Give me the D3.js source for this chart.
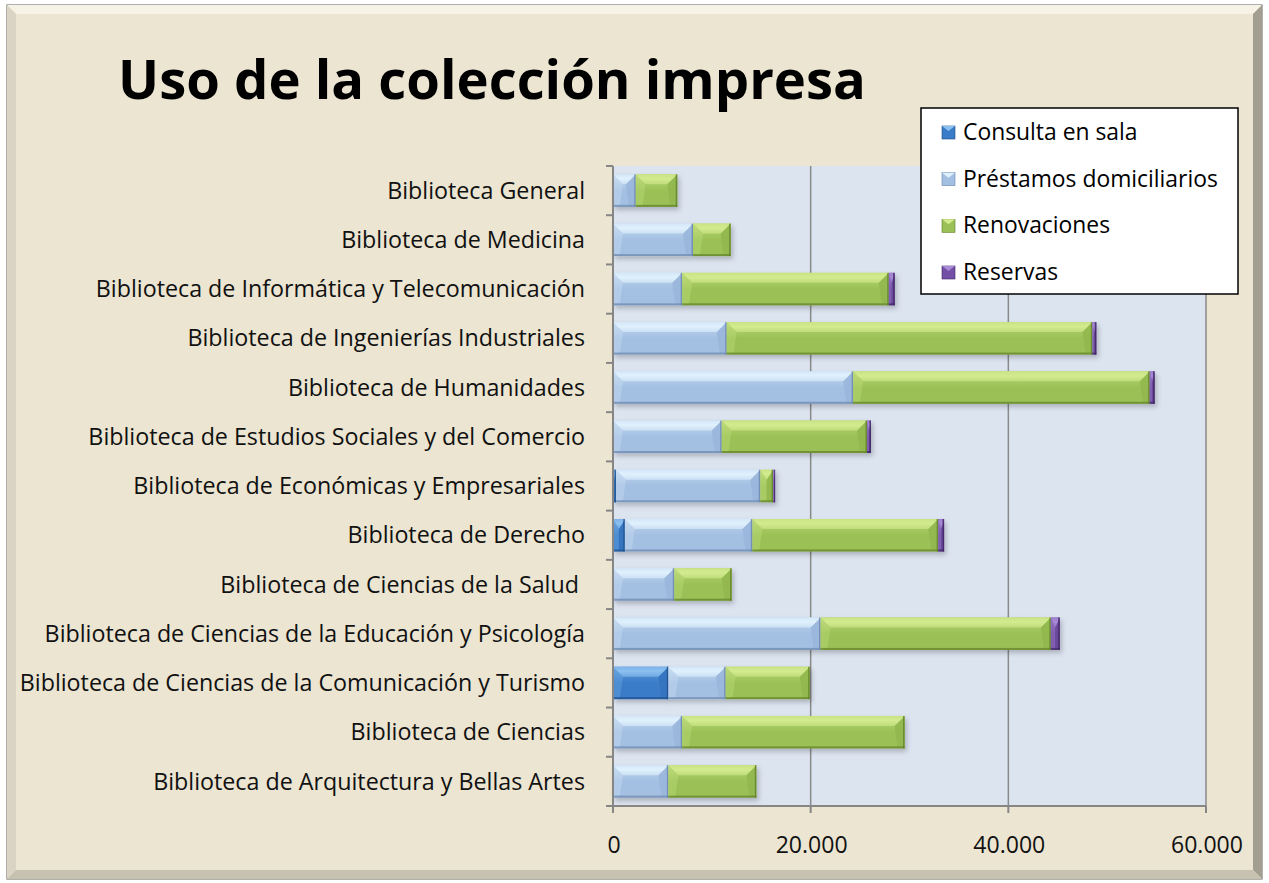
<!DOCTYPE html>
<html><head><meta charset="utf-8">
<script src="https://cdn.jsdelivr.net/npm/d3@7"></script>
<style>html,body{margin:0;padding:0;background:#fff;}svg{display:block;}</style>
</head><body>
<svg id="chart" width="1269" height="883"></svg>
<script>
// ---------- DATA ----------
const title = "Uso de la colección impresa";
const categories = [
  "Biblioteca General",
  "Biblioteca de Medicina",
  "Biblioteca de Informática y Telecomunicación",
  "Biblioteca de Ingenierías Industriales",
  "Biblioteca de Humanidades",
  "Biblioteca de Estudios Sociales y del Comercio",
  "Biblioteca de Económicas y Empresariales",
  "Biblioteca de Derecho",
  "Biblioteca de Ciencias de la Salud ",
  "Biblioteca de Ciencias de la Educación y Psicología",
  "Biblioteca de Ciencias de la Comunicación y Turismo",
  "Biblioteca de Ciencias",
  "Biblioteca de Arquitectura y Bellas Artes"
];
const seriesNames = ["Consulta en sala", "Préstamos domiciliarios", "Renovaciones", "Reservas"];
const consulta     = [0, 0, 0, 0, 0, 0, 300, 1200, 0, 0, 5600, 0, 0];
const prestamos    = [2300, 8100, 7000, 11500, 24300, 11000, 14600, 12900, 6200, 21000, 5800, 7000, 5600];
const renovaciones = [4200, 3800, 20900, 37000, 30000, 14700, 1300, 18800, 5800, 23300, 8500, 22500, 8900];
const reservas     = [0, 0, 600, 400, 500, 400, 200, 600, 0, 900, 0, 0, 0];
const xTicks = [0, 20000, 40000, 60000];

// ---------- STYLE ----------
const seriesColors = [
  {base:"#3A7CC8", light:"#8CC0F0", side:"#3473BF", dark:"#1D4E88"},
  {base:"#A3BFE2", light:"#E0F1FD", side:"#9AB6DA", dark:"#6A86AD"},
  {base:"#9BC156", light:"#D3EB8F", side:"#92B74F", dark:"#5F7F28"},
  {base:"#7350A5", light:"#A88AD6", side:"#6A479A", dark:"#3E2663"}
];
const FONT = "'Open Sans', 'Noto Sans', sans-serif";

const svg = d3.select("#chart");
const defs = svg.append("defs");

// frame
const fx0 = 7, fy0 = 5, fx1 = 1262, fy1 = 879, bv = 9;
svg.append("rect").attr("x", fx0).attr("y", fy0).attr("width", fx1 - fx0).attr("height", fy1 - fy0)
  .attr("fill", "#ECE6D2").attr("stroke", "#7d7b74").attr("stroke-width", 1.2);
const bevels = [
  {pts:[[fx0,fy0],[fx1,fy0],[fx1-bv,fy0+bv],[fx0+bv,fy0+bv]], fill:"#F6F2E6"},
  {pts:[[fx0,fy0],[fx0+bv,fy0+bv],[fx0+bv,fy1-bv],[fx0,fy1]], fill:"#D9D4C3"},
  {pts:[[fx1,fy0],[fx1,fy1],[fx1-bv,fy1-bv],[fx1-bv,fy0+bv]], fill:"#A29E90"},
  {pts:[[fx0,fy1],[fx1,fy1],[fx1-bv,fy1-bv],[fx0+bv,fy1-bv]], fill:"#C7C2B0"}
];
svg.selectAll("polygon.bevel").data(bevels).enter().append("polygon")
  .attr("class", "bevel").attr("points", d => d.pts.map(p => p.join(",")).join(" "))
  .attr("fill", d => d.fill);
svg.append("rect").attr("x", fx0 + bv).attr("y", fy0 + bv)
  .attr("width", fx1 - fx0 - 2 * bv).attr("height", fy1 - fy0 - 2 * bv).attr("fill", "#EBE5D1");

// plot area
const px0 = 613, px1 = 1206, py0 = 166, py1 = 806;
const x = d3.scaleLinear().domain([0, 60000]).range([px0, px1]);
const y = d3.scaleBand().domain(categories).range([py0, py1]).paddingInner(0.34).paddingOuter(0.17);
const yOuter = d3.scaleBand().domain(categories).range([py0, py1]);

svg.append("rect").attr("x", px0).attr("y", py0).attr("width", px1 - px0).attr("height", py1 - py0)
  .attr("fill", "#DCE4F0");

svg.append("g").selectAll("line").data(xTicks.slice(1)).enter().append("line")
  .attr("x1", d => x(d)).attr("x2", d => x(d)).attr("y1", py0).attr("y2", py1)
  .attr("stroke", "#8a8a8a").attr("stroke-width", 1.5);

// gradients
seriesColors.forEach((c, i) => {
  const f = defs.append("linearGradient").attr("id", "face" + i)
    .attr("x1", 0).attr("y1", 0).attr("x2", 0).attr("y2", 1);
  f.append("stop").attr("offset", "0%").attr("stop-color", d3.interpolateRgb(c.light, c.base)(0.5));
  f.append("stop").attr("offset", "50%").attr("stop-color", c.base);
  f.append("stop").attr("offset", "100%").attr("stop-color", c.base);
  const t = defs.append("linearGradient").attr("id", "top" + i)
    .attr("x1", 0).attr("y1", 0).attr("x2", 0).attr("y2", 1);
  t.append("stop").attr("offset", "0%").attr("stop-color", d3.interpolateRgb(c.light, c.base)(0.2));
  t.append("stop").attr("offset", "45%").attr("stop-color", c.light);
  t.append("stop").attr("offset", "100%").attr("stop-color", d3.interpolateRgb(c.light, c.base)(0.35));
});
const flt = defs.append("filter").attr("id", "shadow").attr("x", "-5%").attr("y", "-20%").attr("width", "115%").attr("height", "160%");
flt.append("feDropShadow").attr("dx", 2).attr("dy", 3).attr("stdDeviation", 2.5)
  .attr("flood-color", "#000").attr("flood-opacity", 0.22);

const rows = categories.map((c, i) => ({cat: c, s0: consulta[i], s1: prestamos[i], s2: renovaciones[i], s3: reservas[i]}));
const stack = d3.stack().keys(["s0", "s1", "s2", "s3"])(rows);

const pts = a => a.map(p => p.join(",")).join(" ");
const barsG = svg.append("g").attr("filter", "url(#shadow)");
stack.forEach((layer, si) => {
  const c = seriesColors[si];
  const segs = layer.filter(d => d[1] - d[0] > 0).map(d => {
    const X0 = x(d[0]), X1 = x(d[1]), Y0 = y(d.data.cat), Y1 = Y0 + y.bandwidth();
    const w = X1 - X0;
    return {X0, X1, Y0, Y1, bt: Math.min(10, w / 2), bs: Math.min(7, w / 2), bb: Math.min(2, w / 2), tb: 10};
  });
  const g = barsG.append("g");
  g.selectAll("rect.face").data(segs).enter().append("rect").attr("class", "face")
    .attr("x", d => d.X0).attr("y", d => d.Y0).attr("width", d => d.X1 - d.X0).attr("height", d => d.Y1 - d.Y0)
    .attr("fill", "url(#face" + si + ")");
  g.selectAll("polygon.left").data(segs).enter().append("polygon").attr("class", "left")
    .attr("points", d => pts([[d.X0, d.Y0], [d.X0 + d.bt, d.Y0 + d.tb], [d.X0 + d.bs, d.Y1 - d.bb], [d.X0, d.Y1]]))
    .attr("fill", c.light).attr("opacity", 0.25);
  g.selectAll("polygon.right").data(segs).enter().append("polygon").attr("class", "right")
    .attr("points", d => pts([[d.X1, d.Y0], [d.X1, d.Y1], [d.X1 - d.bs, d.Y1 - d.bb], [d.X1 - d.bt, d.Y0 + d.tb]]))
    .attr("fill", c.side).attr("opacity", 0.9);
  g.selectAll("polygon.top").data(segs).enter().append("polygon").attr("class", "top")
    .attr("points", d => pts([[d.X0, d.Y0], [d.X1, d.Y0], [d.X1 - d.bt, d.Y0 + d.tb], [d.X0 + d.bt, d.Y0 + d.tb]]))
    .attr("fill", "url(#top" + si + ")");
  g.selectAll("rect.bottom").data(segs).enter().append("rect").attr("class", "bottom")
    .attr("x", d => d.X0).attr("y", d => d.Y1 - d.bb).attr("width", d => d.X1 - d.X0).attr("height", d => d.bb)
    .attr("fill", c.dark).attr("opacity", 0.7);
  g.selectAll("rect.rend").data(segs).enter().append("rect").attr("class", "rend")
    .attr("x", d => d.X1 - Math.min(1.5, (d.X1 - d.X0) / 2)).attr("y", d => d.Y0)
    .attr("width", d => Math.min(1.5, (d.X1 - d.X0) / 2)).attr("height", d => d.Y1 - d.Y0)
    .attr("fill", c.dark).attr("opacity", 0.8);
});

// axes
svg.append("line").attr("x1", px0).attr("x2", px0).attr("y1", py0).attr("y2", py1)
  .attr("stroke", "#868686").attr("stroke-width", 2);
svg.append("line").attr("x1", px0 - 6).attr("x2", px1).attr("y1", py1).attr("y2", py1)
  .attr("stroke", "#868686").attr("stroke-width", 2);
const yBounds = categories.map(c => yOuter(c)).concat([py1]);
svg.append("g").selectAll("line").data(yBounds).enter().append("line")
  .attr("x1", px0 - 7).attr("x2", px0).attr("y1", d => d).attr("y2", d => d)
  .attr("stroke", "#868686").attr("stroke-width", 2);
svg.append("g").selectAll("line").data(xTicks).enter().append("line")
  .attr("x1", d => x(d)).attr("x2", d => x(d)).attr("y1", py1).attr("y2", py1 + 7)
  .attr("stroke", "#868686").attr("stroke-width", 2);

function fitSize(text, weight, targetW, base) {
  const t = svg.append("text").attr("font-family", FONT).attr("font-weight", weight)
    .attr("font-size", base).text(text);
  const w = t.node().getComputedTextLength();
  t.remove();
  return base * targetW / w;
}
const catSize = fitSize("Biblioteca de Arquitectura y Bellas Artes", 400, 432, 20);
const titleSize = fitSize(title, 700, 748, 36);
const legSize = fitSize("Préstamos domiciliarios", 400, 255, 20);
const tickSize = fitSize("20.000", 400, 72, 20);

svg.append("g").selectAll("text").data(categories).enter().append("text")
  .attr("x", 585).attr("y", d => yOuter(d) + yOuter.bandwidth() / 2)
  .attr("dy", "0.35em").attr("text-anchor", "end")
  .attr("font-family", FONT).attr("font-size", catSize).attr("fill", "#111")
  .style("white-space", "pre")
  .text(d => d);

const fmt = v => d3.format(",")(v).replace(/,/g, ".");
svg.append("g").selectAll("text").data(xTicks).enter().append("text")
  .attr("x", d => x(d) + 1).attr("y", 845).attr("dy", "0.35em").attr("text-anchor", "middle")
  .attr("font-family", FONT).attr("font-size", tickSize).attr("fill", "#111")
  .text(fmt);

svg.append("text").attr("x", 492).attr("y", 80).attr("dy", "0.35em").attr("text-anchor", "middle")
  .attr("font-family", FONT).attr("font-weight", 700).attr("font-size", titleSize).attr("fill", "#000")
  .text(title);

const lg = svg.append("g");
lg.append("rect").attr("x", 921).attr("y", 108).attr("width", 317).attr("height", 186)
  .attr("fill", "#fff").attr("stroke", "#000").attr("stroke-width", 1.5);
const legY = d3.scalePoint().domain(seriesNames).range([132, 272]);
seriesNames.forEach((n, i) => {
  const sx = 942, sy = legY(n) - 6, s = 13;
  lg.append("rect").attr("x", sx).attr("y", sy).attr("width", s).attr("height", s)
    .attr("fill", seriesColors[i].base).attr("stroke", seriesColors[i].dark).attr("stroke-width", 0.6);
  lg.append("polygon").attr("points", pts([[sx, sy], [sx + s, sy], [sx + s / 2, sy + 5]]))
    .attr("fill", seriesColors[i].light);
  lg.append("text").attr("x", 963).attr("y", legY(n)).attr("dy", "0.35em")
    .attr("font-family", FONT).attr("font-size", legSize).attr("fill", "#000").text(n);
});
</script>
</body></html>
